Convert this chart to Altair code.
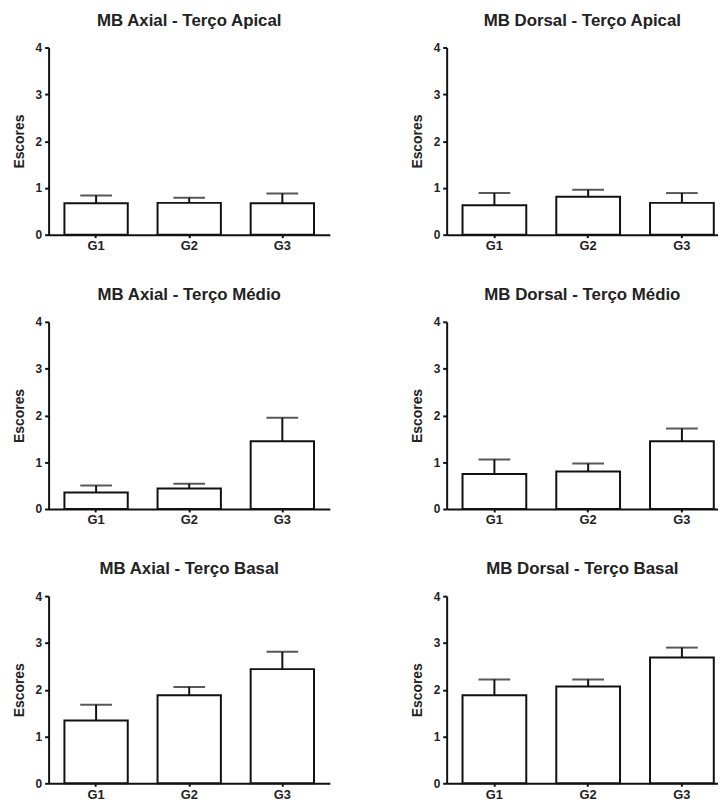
import altair as alt
import pandas as pd

groups = ["G1", "G2", "G3"]

titles = [
    "MB Axial - Terço Apical", "MB Dorsal - Terço Apical",
    "MB Axial - Terço Médio", "MB Dorsal - Terço Médio",
    "MB Axial - Terço Basal", "MB Dorsal - Terço Basal",
]

axial_apical = [0.67, 0.68, 0.67]
axial_apical_err = [0.84, 0.79, 0.88]
dorsal_apical = [0.63, 0.81, 0.68]
dorsal_apical_err = [0.89, 0.96, 0.89]
axial_medio = [0.35, 0.44, 1.45]
axial_medio_err = [0.50, 0.54, 1.95]
dorsal_medio = [0.75, 0.80, 1.45]
dorsal_medio_err = [1.06, 0.97, 1.72]
axial_basal = [1.34, 1.88, 2.44]
axial_basal_err = [1.68, 2.06, 2.81]
dorsal_basal = [1.88, 2.07, 2.69]
dorsal_basal_err = [2.22, 2.22, 2.90]

y_ticks = [0, 1, 2, 3, 4]

series = [
    (axial_apical, axial_apical_err), (dorsal_apical, dorsal_apical_err),
    (axial_medio, axial_medio_err), (dorsal_medio, dorsal_medio_err),
    (axial_basal, axial_basal_err), (dorsal_basal, dorsal_basal_err),
]

FONT = "Liberation Sans"
H = 189


def panel(title, vals, errs, right):
    df = pd.DataFrame({"grupo": groups, "valor": vals, "erro": errs})
    if right:
        width = 274
        sc = alt.Scale(paddingInner=0.32, paddingOuter=0.107, align=0.79)
    else:
        width = 284
        sc = alt.Scale(paddingInner=0.32, paddingOuter=0.17)
    x = alt.X("grupo:N", sort=groups, title=None, scale=sc,
              axis=alt.Axis(labelAngle=0, labelAlign="center", labelBaseline="top",
                            domainWidth=2, domainColor="#111",
                            tickColor="#111", tickWidth=2, tickSize=3,
                            labelFont=FONT, labelFontSize=13, labelFontWeight="bold",
                            labelColor="#222", labelPadding=2))
    y = alt.Y("valor:Q", title="Escores",
              scale=alt.Scale(domain=[0, 4], nice=False),
              axis=alt.Axis(values=y_ticks, format="d", grid=False, domainWidth=2,
                            domainColor="#111", tickColor="#111", tickWidth=2,
                            tickSize=4, labelFont=FONT, labelFontSize=12,
                            labelFontWeight="bold", labelColor="#222", labelPadding=3,
                            titleFont=FONT, titleFontSize=14, titleFontWeight="bold",
                            titleColor="#222", titlePadding=9))
    base = alt.Chart(df)
    bars = base.mark_bar(fill="white", stroke="#111", strokeWidth=2).encode(x=x, y=y)
    err_line = base.mark_rule(color="#111", strokeWidth=2).encode(
        x=alt.X("grupo:N", sort=groups), y="valor:Q", y2="erro:Q")
    cap = base.mark_tick(color="#111", thickness=2, size=32, orient="horizontal").encode(
        x=alt.X("grupo:N", sort=groups), y="erro:Q")
    return alt.layer(bars, err_line, cap).properties(
        width=width, height=H,
        title=alt.TitleParams(title, font=FONT, fontSize=17, fontWeight="bold",
                              color="#222", anchor="middle", offset=12))


charts = [panel(t, v, e, i % 2 == 1) for i, (t, (v, e)) in enumerate(zip(titles, series))]
rows = [alt.hconcat(charts[i], charts[i + 1], spacing=81) for i in range(0, 6, 2)]
chart = alt.vconcat(*rows, spacing=34).configure(
    padding={"left": 4, "top": 0, "right": 0, "bottom": 0}
).configure_view(stroke=None)

chart.save("out.html", embed_options={"renderer": "svg", "actions": False})
